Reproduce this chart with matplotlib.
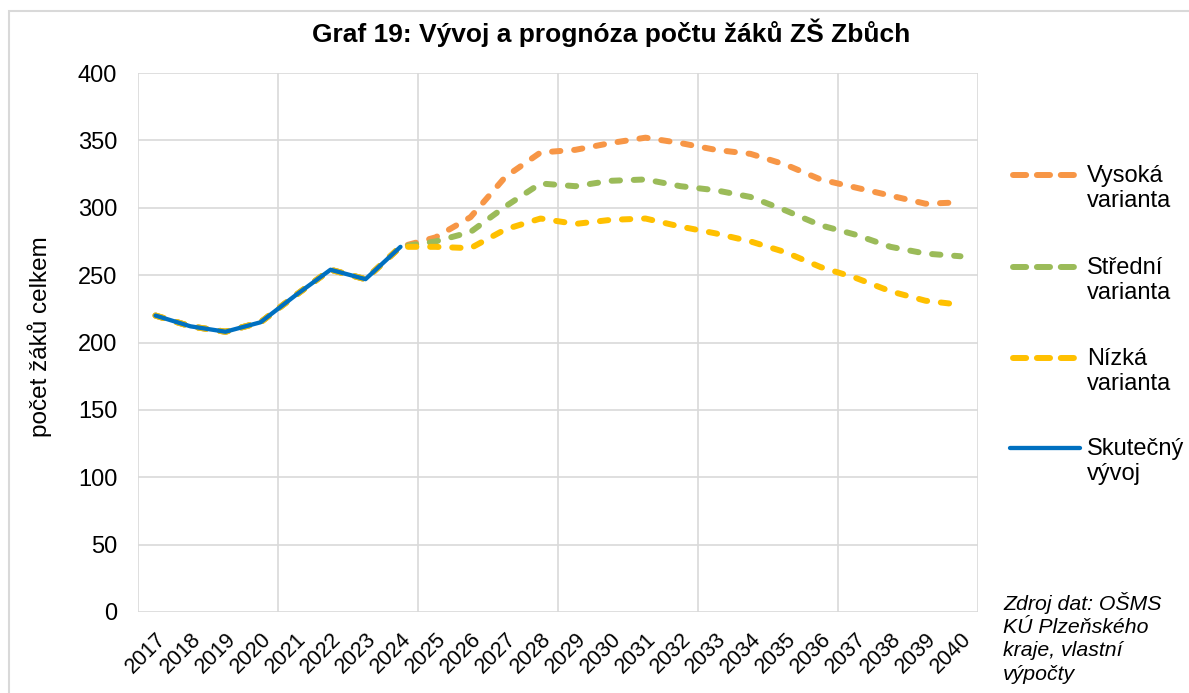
import matplotlib
matplotlib.use("Agg")
import matplotlib.pyplot as plt
from matplotlib.lines import Line2D
from matplotlib.patches import Rectangle
import numpy as np

plt.rcParams['font.family'] = ['Liberation Sans', 'DejaVu Sans']

# data
years = [str(y) for y in range(2017, 2041)]
history = [220, 212, 208, 215, 235, 254, 247, 271]
high_forecast = [278, 293, 323, 341, 343, 348, 352, 348, 343, 340, 332, 321, 315, 309, 303, 304]
mid_forecast = [275, 282, 301, 318, 316, 320, 321, 316, 313, 308, 298, 287, 280, 271, 266, 264]
low_forecast = [271, 270, 284, 292, 288, 291, 292, 286, 281, 275, 267, 256, 248, 238, 231, 228]

series_names = ["Vysoká\nvarianta", "Střední\nvarianta", "Nízká\nvarianta", "Skutečný\nvývoj"]
series_colors = ["#F79646", "#9BBB59", "#FFC000", "#0070C0"]

W, H = 1189, 693
DASH = (0, (1.4, 2.3))

fig = plt.figure(figsize=(W / 100, H / 100), dpi=100)
ax = fig.add_axes([138 / W, 1 - 612 / H, 840 / W, 539 / H])

x = np.arange(len(years))
forecasts = [history + high_forecast, history + mid_forecast, history + low_forecast]
for vals, col in zip(forecasts, series_colors[:3]):
    ax.plot(x, vals, color=col, linewidth=4.3, linestyle=DASH,
            dash_capstyle='round', dash_joinstyle='round', zorder=3)
ax.plot(x[:len(history)], history, color=series_colors[3], linewidth=3.1,
        solid_capstyle='round', solid_joinstyle='round', zorder=4)

ax.set_xlim(-0.5, len(years) - 0.5)
ax.set_ylim(0, 400)
ax.set_yticks(range(0, 401, 50))
ax.set_xticks(x)
ax.set_xticklabels(years, rotation=45, ha='right', va='top', rotation_mode='anchor')
ax.set_xticks(np.arange(-0.5, len(years), 4), minor=True)
ax.grid(which='minor', axis='x', color='#D9D9D9', linewidth=1.2)
ax.grid(which='major', axis='y', color='#D9D9D9', linewidth=1.2)
ax.tick_params(axis='both', which='both', length=0)
ax.tick_params(axis='y', pad=15, labelsize=17)
ax.tick_params(axis='x', pad=12, labelsize=15.5)
for s in ax.spines.values():
    s.set_visible(False)
ax.set_axisbelow(True)

ax.set_ylabel("počet žáků celkem", fontsize=17.5)
ax.yaxis.set_label_coords(-0.102, 0.51)

fig.text(0.514, 1 - 33 / H, "Graf 19: Vývoj a prognóza počtu žáků ZŠ Zbůch",
         ha='center', va='center', fontsize=19, fontweight='bold')

# legend
leg_y = [175, 267, 358, 448]
for name, col, ly in zip(series_names, series_colors, leg_y):
    if name.startswith("Skute"):
        ln = Line2D([1010 / W, 1080 / W], [1 - ly / H] * 2, color=col, linewidth=3.1,
                    solid_capstyle='round', transform=fig.transFigure)
    else:
        ln = Line2D([1013 / W, 1074 / W], [1 - ly / H] * 2, color=col, linewidth=4.3,
                    linestyle=(0, (2.2, 1.8)), dash_capstyle='round', transform=fig.transFigure)
    fig.add_artist(ln)
    fig.text(1087 / W, 1 - (ly + 13.5) / H, name, ha='left', va='center',
             fontsize=17, linespacing=1.2)

fig.text(1003 / W, 1 - 592 / H, "Zdroj dat: OŠMS\nKÚ Plzeňského\nkraje, vlastní\nvýpočty",
         ha='left', va='top', fontsize=15.3, style='italic', linespacing=1.28)

fig.add_artist(Rectangle((9 / W, -0.1), 1.2, 1.1 - 11 / H, fill=False, edgecolor='#D9D9D9',
                         linewidth=1.5, transform=fig.transFigure))

fig.savefig("out.png", dpi=100)
